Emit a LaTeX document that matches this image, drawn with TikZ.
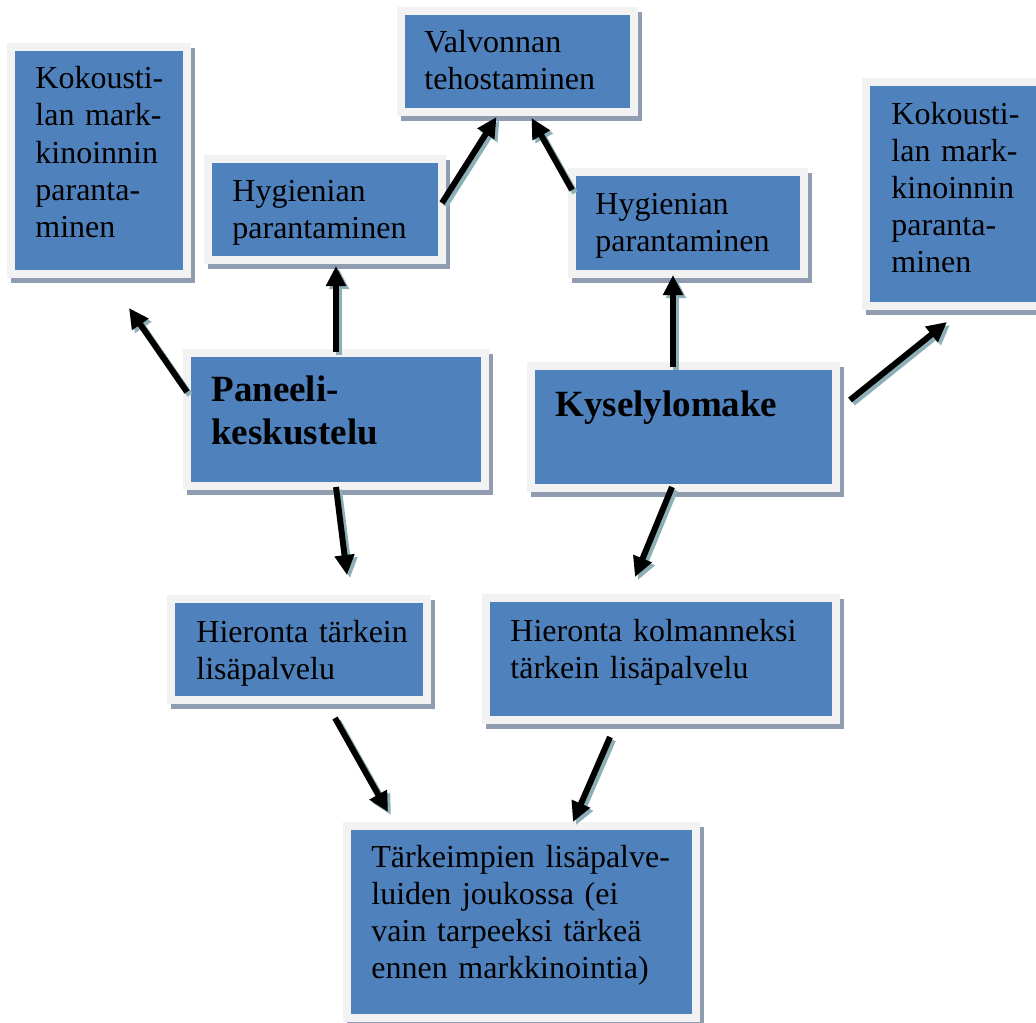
\documentclass[tikz,border=0pt]{standalone}
\usepackage{fontspec}
\setmainfont{Liberation Serif}
\usetikzlibrary{calc,shadows,arrows.meta}

\definecolor{boxblue}{HTML}{4F81BD}
\definecolor{boxframe}{HTML}{F2F2F2}
\definecolor{boxshade}{HTML}{909DB0}
\definecolor{arrowshade}{HTML}{8DAFB7}

\tikzset{
  box/.style={rectangle, fill=boxframe, inner sep=0pt, outer sep=0pt,
    drop shadow={shadow xshift=2pt, shadow yshift=-2.5pt, fill=boxshade, opacity=1},
    path picture={\fill[boxblue]
      ([shift={(4pt,-4pt)}]path picture bounding box.north west) rectangle
      ([shift={(-4pt,4pt)}]path picture bounding box.south east);}},
  % text width makes the block hang from the baseline of its first line
  txt/.style={anchor=base west, inner sep=0pt, align=left, text width=170pt,
    font=\fontsize{16pt}{18.5pt}\selectfont},
  bigtxt/.style={anchor=base west, inner sep=0pt, align=left, text width=150pt,
    font=\fontsize{18.5pt}{21.5pt}\selectfont\bfseries},
  arrowshadow/.style={draw=arrowshade, line width=3pt,
    -{Triangle[length=10pt,width=9.5pt]},
    transform canvas={shift={(1.5pt,-1.5pt)}}},
  arrowline/.style={draw=black, line width=3pt,
    -{Triangle[length=10pt,width=9.5pt]}}
}

\begin{document}
\begin{tikzpicture}[x=0.5pt, y=-0.5pt]
\useasboundingbox (0,0) rectangle (1036,1022);

% boxes
\node[box, minimum width=92pt,   minimum height=117.5pt] (kl)  at (99,160.5)   {};
\node[box, minimum width=120.5pt,minimum height=54.5pt]  (val) at (517.5,61.5) {};
\node[box, minimum width=121pt,  minimum height=54.5pt]  (hl)  at (325,209.5)  {};
\node[box, minimum width=120pt,  minimum height=55pt]    (hr)  at (688,223)    {};
\node[box, minimum width=92pt,   minimum height=116pt]   (kr)  at (954,194)    {};
\node[box, minimum width=153pt,  minimum height=70.5pt]  (pan) at (336,419.5)  {};
\node[box, minimum width=156.5pt,minimum height=65pt]    (kys) at (683.5,427)  {};
\node[box, minimum width=132pt,  minimum height=54.5pt]  (h1)  at (299,649.5)  {};
\node[box, minimum width=179pt,  minimum height=65pt]    (h2)  at (661,659)    {};
\node[box, minimum width=178.5pt,minimum height=100pt]   (tar) at (521.5,922)  {};

% texts
\node[txt] (klt)  at ($(kl.north west)+(28,46)$)  {Kokousti-\\lan mark-\\kinoinnin\\paranta-\\minen};
\node[txt] (valt) at ($(val.north west)+(27,46)$) {Valvonnan\\tehostaminen};
\node[txt] (hlt)  at ($(hl.north west)+(28,46)$)  {Hygienian\\parantaminen};
\node[txt] (hrt)  at ($(hr.north west)+(27,46)$)  {Hygienian\\parantaminen};
\node[txt] (krt)  at ($(kr.north west)+(29,46)$)  {Kokousti-\\lan mark-\\kinoinnin\\paranta-\\minen};
\node[bigtxt] (pant) at ($(pan.north west)+(28,52)$) {Paneeli-\\keskustelu};
\node[bigtxt] (kyst) at ($(kys.north west)+(28,54)$) {Kyselylomake};
\node[txt] (h1t)  at ($(h1.north west)+(29,47)$)  {Hieronta tärkein\\lisäpalvelu};
\node[txt] (h2t)  at ($(h2.north west)+(28,47)$)  {Hieronta kolmanneksi\\tärkein lisäpalvelu};
\node[txt] (tart) at ($(tar.north west)+(28,45)$) {Tärkeimpien lisäpalve-\\luiden joukossa (ei\\vain tarpeeksi tärkeä\\ennen markkinointia)};

% connector end points
\coordinate (a1s) at ($(pan.north west)+(4,43)$);
\coordinate (a1e) at ($(kl.south west)+(122,30)$);
\coordinate (a2s) at ($(pan.north)+(0,3)$);
\coordinate (a2e) at ($(hl.south)+(11,2)$);
\coordinate (a3s) at ($(hl.north east)+(-4,48)$);
\coordinate (a3e) at ($(val.south)+(-21,1)$);
\coordinate (a4s) at ($(hr.north west)+(4,22)$);
\coordinate (a4e) at ($(val.south)+(14,2)$);
\coordinate (a5s) at ($(kys.north)+(-10.5,5)$);
\coordinate (a5e) at ($(hr.south)+(-15,-3)$);
\coordinate (a6s) at ($(kys.north east)+(10,38)$);
\coordinate (a6e) at ($(kr.south west)+(85,12)$);
\coordinate (a7s) at ($(pan.south)+(0,-3)$);
\coordinate (a7e) at ($(h1.north)+(48,-20)$);
\coordinate (a8s) at ($(kys.south)+(-11.5,-5)$);
\coordinate (a8e) at ($(h2.north)+(-26,-17)$);
\coordinate (a9s) at ($(h1.south)+(36,14)$);
\coordinate (a9e) at ($(tar.north west)+(45,-10)$);
\coordinate (a10s) at ($(h2.south)+(-51,13)$);
\coordinate (a10e) at ($(tar.north)+(51.5,0)$);

% arrows: shadow first, then the black arrow
\foreach \a in {a1,a2,a3,a4,a5,a6,a7,a8,a9,a10}{
  \draw[arrowshadow] (\a s) -- (\a e);
}
\foreach \a in {a1,a2,a3,a4,a5,a6,a7,a8,a9,a10}{
  \draw[arrowline] (\a s) -- (\a e);
}
\end{tikzpicture}
\end{document}
